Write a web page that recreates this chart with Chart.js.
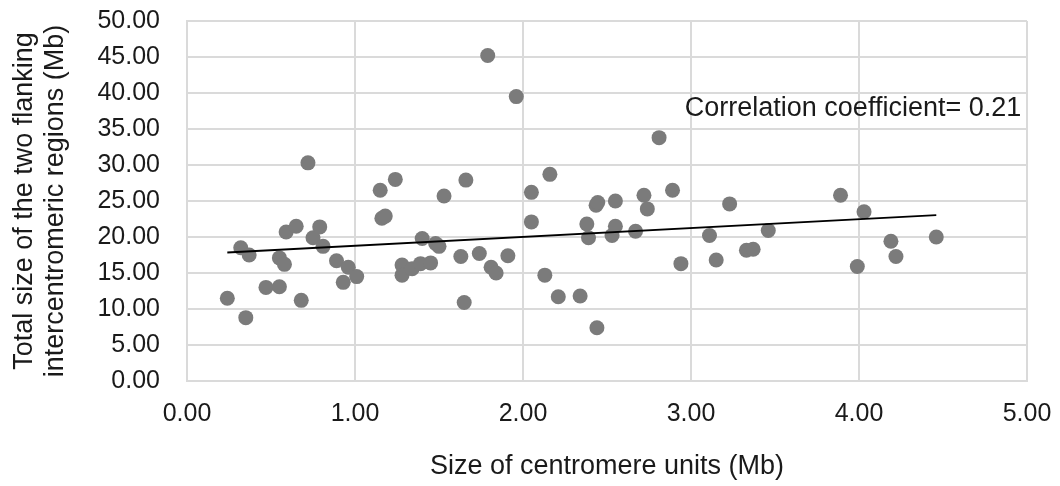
<!DOCTYPE html>
<html>
<head>
<meta charset="utf-8">
<script src="https://cdn.jsdelivr.net/npm/chart.js@4.4.1/dist/chart.umd.min.js"></script>
<style>
  html, body { margin: 0; padding: 0; background: #ffffff; }
  #wrap { width: 1060px; height: 486px; position: relative; }
</style>
</head>
<body>
<div id="wrap"><canvas id="c"></canvas></div>
<script>
// Size of centromere units (Mb)
const xValues = [
  0.24, 0.32, 0.35, 0.37, 0.47, 0.55, 0.55, 0.58, 0.59, 0.65,
  0.68, 0.72, 0.75, 0.79, 0.81, 0.89, 0.93, 0.96, 1.01, 1.15,
  1.16, 1.18, 1.24, 1.28, 1.28, 1.34, 1.39, 1.40, 1.45, 1.48,
  1.50, 1.53, 1.63, 1.65, 1.66, 1.74, 1.81, 1.84, 1.91, 1.79,
  1.96, 2.05, 2.05, 2.13, 2.16, 2.21, 2.34, 2.38, 2.39, 2.435,
  2.445, 2.44, 2.53, 2.55, 2.55, 2.67, 2.72, 2.74, 2.81, 2.89,
  2.94, 3.11, 3.15, 3.23, 3.33, 3.37, 3.46, 3.89, 3.99, 4.03,
  4.19, 4.22, 4.46
];
// Total size of the two flanking intercentromeric regions (Mb)
const yValues = [
  11.5, 18.5, 8.8, 17.5, 13.0, 13.1, 17.1, 16.2, 20.7, 21.5,
  11.2, 30.3, 19.9, 21.4, 18.7, 16.7, 13.7, 15.8, 14.5, 26.5,
  22.6, 22.9, 28.0, 16.1, 14.7, 15.6, 16.3, 19.8, 16.4, 19.1,
  18.7, 25.7, 17.3, 10.9, 27.9, 17.7, 15.8, 15.0, 17.4, 45.2,
  39.5, 26.2, 22.1, 14.7, 28.7, 11.7, 11.8, 21.8, 19.9, 24.4,
  24.8, 7.4, 20.2, 25.0, 21.5, 20.8, 25.8, 23.9, 33.8, 26.5,
  16.3, 20.2, 16.8, 24.6, 18.15, 18.3, 20.9, 25.8, 15.9, 23.5,
  19.4, 17.3, 20.0
];
// Linear trend line end points
const trendX = [0.24, 4.46];
const trendY = [17.85, 23.05];

const xTicks = ['0.00', '1.00', '2.00', '3.00', '4.00', '5.00'];
const yTicks = ['0.00', '5.00', '10.00', '15.00', '20.00', '25.00', '30.00', '35.00', '40.00', '45.00', '50.00'];

const xTitle = 'Size of centromere units (Mb)';
const yTitle = ['Total size of the two flanking', 'intercentromeric regions (Mb)'];
const noteText = 'Correlation coefficient= 0.21';
const noteAt = { x: 2.963, y: 37.9 };

const FONT = '"Liberation Sans", Arial, Helvetica, sans-serif';
const TEXT = '#1a1a1a';
const GRID = '#dadada';

const scatterPts = xValues.map((x, i) => ({ x: x, y: yValues[i] }));
const trendPts = trendX.map((x, i) => ({ x: x, y: trendY[i] }));

const notePlugin = {
  id: 'note',
  afterDatasetsDraw(chart) {
    const ctx = chart.ctx;
    const xs = chart.scales.x, ys = chart.scales.y;
    ctx.save();
    ctx.font = '27px ' + FONT;
    ctx.fillStyle = TEXT;
    ctx.textAlign = 'left';
    ctx.textBaseline = 'middle';
    ctx.fillText(noteText, xs.getPixelForValue(noteAt.x), ys.getPixelForValue(noteAt.y));
    ctx.restore();
  }
};

new Chart(document.getElementById('c'), {
  type: 'scatter',
  data: {
    datasets: [
      {
        label: 'points',
        data: scatterPts,
        backgroundColor: '#7b7b7b',
        borderColor: '#7b7b7b',
        borderWidth: 0,
        pointRadius: 7.5,
        pointHoverRadius: 7.5,
        order: 2
      },
      {
        label: 'trend',
        type: 'line',
        data: trendPts,
        borderColor: '#000000',
        borderWidth: 1.8,
        pointRadius: 0,
        fill: false,
        tension: 0,
        order: 1
      }
    ]
  },
  options: {
    responsive: true,
    maintainAspectRatio: false,
    animation: false,
    events: [],
    layout: { padding: { left: 0, right: 33, top: 21, bottom: 0 } },
    plugins: {
      legend: { display: false },
      tooltip: { enabled: false },
      title: { display: false }
    },
    scales: {
      x: {
        type: 'linear',
        min: 0,
        max: 5,
        afterFit(scale) {
          scale.height = 105;
          scale.paddingLeft = 0;
          scale.paddingRight = 0;
        },
        afterBuildTicks(scale) {
          scale.ticks = xTicks.map(t => ({ value: parseFloat(t) }));
        },
        ticks: {
          callback: (v) => xTicks.find(t => parseFloat(t) === v) ?? '',
          color: TEXT,
          font: { family: FONT, size: 25 },
          padding: 18,
          maxRotation: 0,
          autoSkip: false
        },
        grid: { color: GRID, lineWidth: 2, drawTicks: false },
        border: { color: GRID, width: 2 },
        title: {
          display: true,
          text: xTitle,
          color: TEXT,
          font: { family: FONT, size: 27, lineHeight: 1.2 },
          padding: { top: 0, bottom: 3 }
        }
      },
      y: {
        type: 'linear',
        min: 0,
        max: 50,
        afterFit(scale) {
          scale.width = 187;
          scale.paddingTop = 0;
          scale.paddingBottom = 0;
        },
        afterBuildTicks(scale) {
          scale.ticks = yTicks.map(t => ({ value: parseFloat(t) }));
        },
        ticks: {
          callback: (v) => yTicks.find(t => parseFloat(t) === v) ?? '',
          color: TEXT,
          font: { family: FONT, size: 25 },
          padding: 27,
          autoSkip: false
        },
        grid: { color: GRID, lineWidth: 2, drawTicks: false },
        border: { color: GRID, width: 2 },
        title: {
          display: true,
          text: yTitle,
          color: TEXT,
          font: { family: FONT, size: 27, lineHeight: 1.15 },
          padding: { top: 9, bottom: 0 }
        }
      }
    }
  },
  plugins: [notePlugin]
});
</script>
</body>
</html>
